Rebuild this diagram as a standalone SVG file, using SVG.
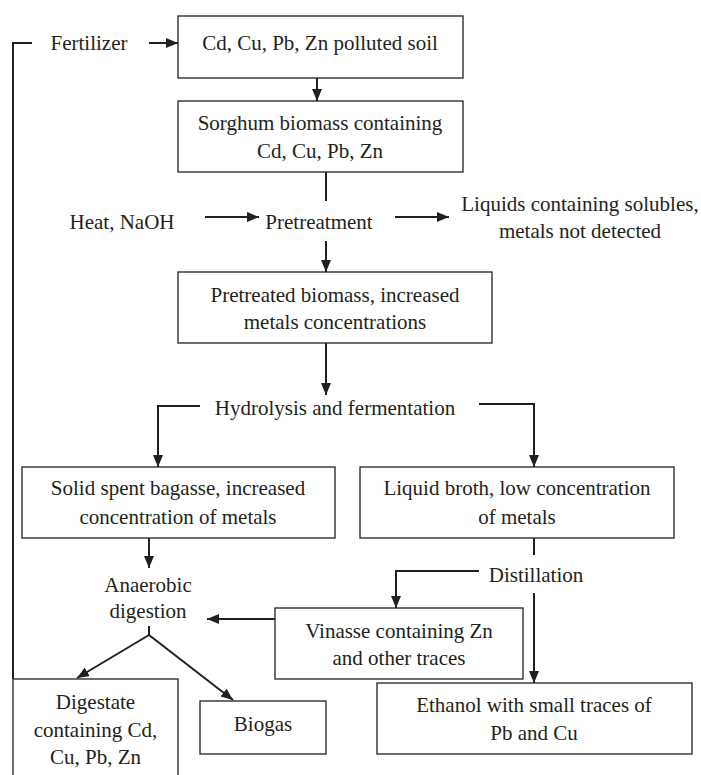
<svg xmlns="http://www.w3.org/2000/svg" width="701" height="775" viewBox="0 0 701 775">
<style>
text{font-family:'Liberation Serif','Times New Roman',Tinos,'DejaVu Serif','Noto Serif',serif;font-size:21px;fill:#231f20;text-anchor:middle}
.box{fill:#fff;stroke:#231f20;stroke-width:1.3}
.c{fill:none;stroke:#231f20;stroke-width:2}
</style>
<defs>
<marker id="ah" markerUnits="userSpaceOnUse" markerWidth="13" markerHeight="11" refX="12" refY="5" orient="auto">
<path d="M0,0 L12,5 L0,10 z" fill="#231f20"/>
</marker>
</defs>
<rect width="701" height="775" fill="#fff"/>
<g id="connectors">
<polyline class="c" points="32,43 13,43 13,679"/>
<line class="c" x1="149" y1="43" x2="178" y2="43" marker-end="url(#ah)"/>
<line class="c" x1="317" y1="78" x2="317" y2="101" marker-end="url(#ah)"/>
<line class="c" x1="326" y1="172" x2="326" y2="201"/>
<line class="c" x1="205" y1="217" x2="259" y2="217" marker-end="url(#ah)"/>
<line class="c" x1="395" y1="217" x2="449" y2="217" marker-end="url(#ah)"/>
<line class="c" x1="326" y1="241" x2="326" y2="272" marker-end="url(#ah)"/>
<line class="c" x1="326" y1="343" x2="326" y2="395" marker-end="url(#ah)"/>
<polyline class="c" points="200,406 158,406 158,467" marker-end="url(#ah)"/>
<polyline class="c" points="479,404 534,404 534,467" marker-end="url(#ah)"/>
<line class="c" x1="149" y1="538" x2="149" y2="568" marker-end="url(#ah)"/>
<line class="c" x1="534" y1="538" x2="534" y2="555"/>
<polyline class="c" points="479,571 396,571 396,608" marker-end="url(#ah)"/>
<line class="c" x1="534" y1="593" x2="534" y2="683" marker-end="url(#ah)"/>
<line class="c" x1="275" y1="619" x2="207" y2="619" marker-end="url(#ah)"/>
<line class="c" x1="149" y1="626" x2="149" y2="635"/>
<line class="c" x1="149" y1="635" x2="77" y2="678" marker-end="url(#ah)"/>
<line class="c" x1="149" y1="635" x2="233" y2="700" marker-end="url(#ah)"/>
</g>
<g font-family="'Liberation Serif', 'DejaVu Serif', serif">
<g id="fertilizer"><text x="89" y="50">Fertilizer</text></g>
<g id="soil"><rect class="box" x="178" y="16" width="285" height="62"/><text x="320" y="50">Cd, Cu, Pb, Zn polluted soil</text></g>
<g id="sorghum"><rect class="box" x="178" y="101" width="285" height="71"/><text x="320" y="130">Sorghum biomass containing</text><text x="320" y="158">Cd, Cu, Pb, Zn</text></g>
<g id="heat"><text x="122" y="229">Heat, NaOH</text></g>
<g id="pretreatment"><text x="319" y="229">Pretreatment</text></g>
<g id="liquids"><text x="580" y="211">Liquids containing solubles,</text><text x="580" y="238">metals not detected</text></g>
<g id="pretreated"><rect class="box" x="178" y="272" width="314" height="71"/><text x="335" y="302">Pretreated biomass, increased</text><text x="335" y="329">metals concentrations</text></g>
<g id="hydrolysis"><text x="335" y="415">Hydrolysis and fermentation</text></g>
<g id="solid"><rect class="box" x="22" y="467" width="313" height="71"/><text x="178" y="495">Solid spent bagasse, increased</text><text x="178" y="524">concentration of metals</text></g>
<g id="broth"><rect class="box" x="360" y="467" width="314" height="71"/><text x="517" y="495">Liquid broth, low concentration</text><text x="517" y="524">of metals</text></g>
<g id="distillation"><text x="536" y="582">Distillation</text></g>
<g id="anaerobic"><text x="148" y="592">Anaerobic</text><text x="148" y="618">digestion</text></g>
<g id="vinasse"><rect class="box" x="275" y="608" width="248" height="71"/><text x="399" y="638">Vinasse containing Zn</text><text x="399" y="665">and other traces</text></g>
<g id="ethanol"><rect class="box" x="377" y="683" width="315" height="71"/><text x="534" y="712">Ethanol with small traces of</text><text x="534" y="740">Pb and Cu</text></g>
<g id="biogas"><rect class="box" x="200" y="701" width="126" height="53"/><text x="263" y="731">Biogas</text></g>
<g id="digestate"><rect class="box" x="13" y="679" width="165" height="110"/><text x="95.5" y="709">Digestate</text><text x="95.5" y="737">containing Cd,</text><text x="95.5" y="764">Cu, Pb, Zn</text></g>
</g>
</svg>
